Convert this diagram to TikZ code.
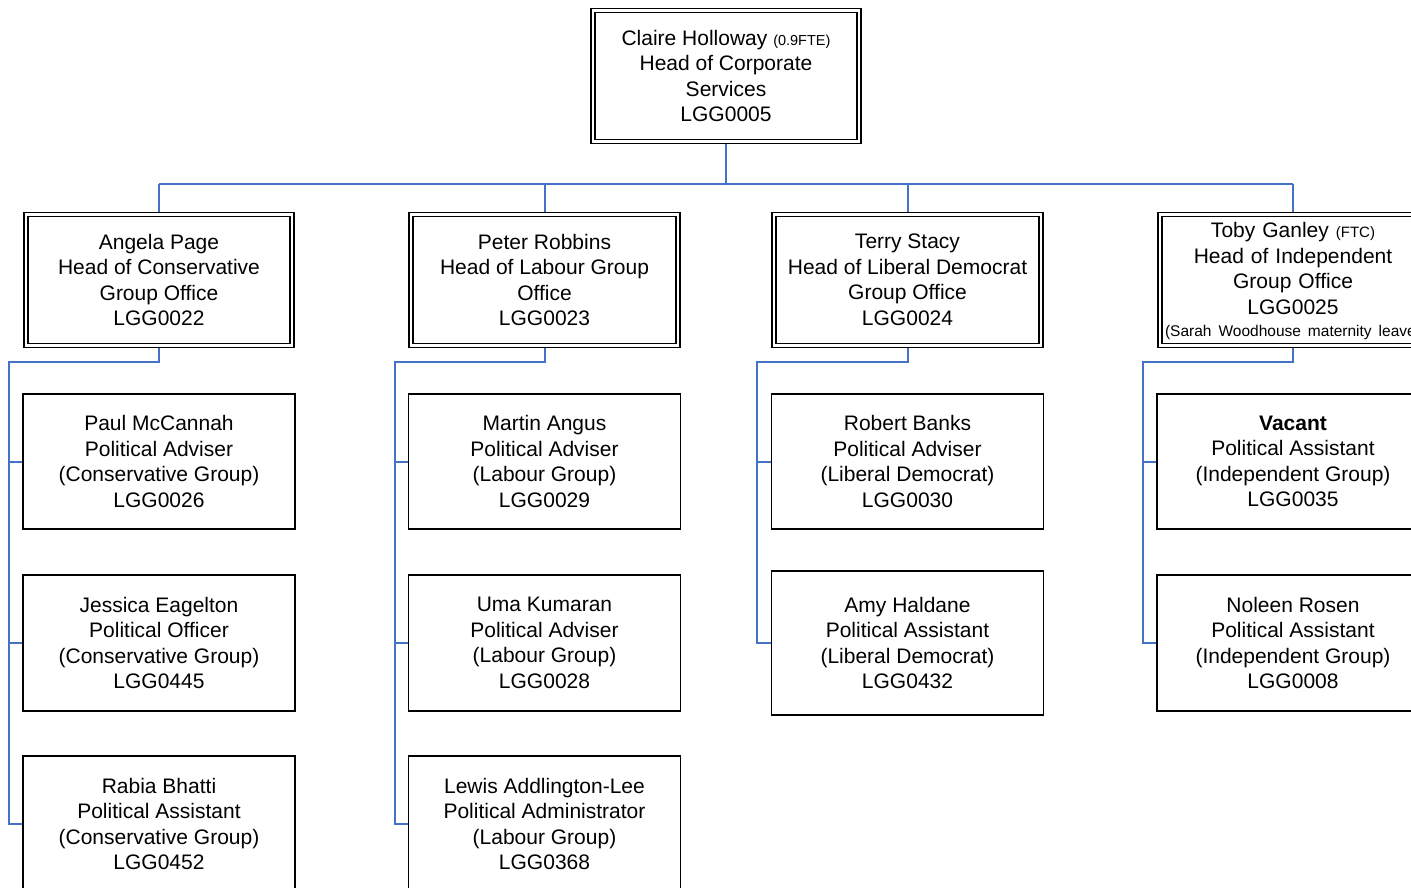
\documentclass[tikz,border=0pt]{standalone}
\usepackage{fontspec}
\setmainfont{Liberation Sans}
\usetikzlibrary{backgrounds}
\definecolor{connblue}{HTML}{4472C4}
\begin{document}
\begin{tikzpicture}[x=1pt,y=-1pt,
  every node/.style={font=\fontsize{21}{25.5}\selectfont, align=center, inner sep=0pt},
  headbox/.style={draw=black, double, double distance=2.4pt, line width=1.7pt, fill=white,
    minimum width=266.5, minimum height=131},
  staffbox/.style={draw=black, line width=1.6pt, fill=white, minimum width=272, minimum height=135},
  conn/.style={draw=connblue, line width=2pt}
]
\useasboundingbox (0,0) rectangle (1411,888);
\clip (0,0) rectangle (1411,888);

% top
\node[headbox] (top) at (726,76) {Claire Holloway {\fontsize{14.5}{16}\selectfont (0.9FTE)}\\Head of Corporate\\Services\\LGG0005};

% heads
\node[headbox] (h1) at (159,280) {Angela Page\\Head of Conservative\\Group Office\\LGG0022};
\node[headbox] (h2) at (544.5,280) {Peter Robbins\\Head of Labour Group\\Office\\LGG0023};
\node[headbox] (h3) at (907.5,280) {Terry Stacy\\Head of Liberal Democrat\\Group Office\\LGG0024};
\node[headbox] (h4) at (1293,280) {};
\node[text width=360] (h4t) at (1293,281) {Toby Ganley {\fontsize{15}{16}\selectfont (FTC)}\\Head of Independent\\Group Office\\LGG0025\\[-3pt]{\fontsize{15.5}{18}\selectfont (Sarah Woodhouse maternity leave)}};

% conservative
\node[staffbox] (c1) at (159,461.5) {Paul McCannah\\Political Adviser\\(Conservative Group)\\LGG0026};
\node[staffbox, minimum height=136] (c2) at (159,643) {Jessica Eagelton\\Political Officer\\(Conservative Group)\\LGG0445};
\node[staffbox, minimum height=136] (c3) at (159,824) {Rabia Bhatti\\Political Assistant\\(Conservative Group)\\LGG0452};

% labour
\node[staffbox] (l1) at (544.5,461.5) {Martin Angus\\Political Adviser\\(Labour Group)\\LGG0029};
\node[staffbox, minimum height=136] (l2) at (544.5,643) {Uma Kumaran\\Political Adviser\\(Labour Group)\\LGG0028};
\node[staffbox, minimum height=136] (l3) at (544.5,824) {Lewis Addlington-Lee\\Political Administrator\\(Labour Group)\\LGG0368};

% lib dem
\node[staffbox] (d1) at (907.5,461.5) {Robert Banks\\Political Adviser\\(Liberal Democrat)\\LGG0030};
\node[staffbox, minimum height=144] (d2) at (907.5,643) {Amy Haldane\\Political Assistant\\(Liberal Democrat)\\LGG0432};

% independent
\node[staffbox] (i1) at (1293,461.5) {\textbf{Vacant}\\Political Assistant\\(Independent Group)\\LGG0035};
\node[staffbox, minimum height=136] (i2) at (1293,643) {Noleen Rosen\\Political Assistant\\(Independent Group)\\LGG0008};

\begin{scope}[on background layer]
\coordinate (bus) at (0,184);
\draw[conn] (top.south) -- (top.south |- bus);
\draw[conn] (bus -| h1.north) -- (bus -| h4.north);
\foreach \h in {h1,h2,h3,h4} \draw[conn] (bus -| \h.north) -- (\h.north);

\coordinate (s1) at (9,362);
\draw[conn] (h1.south) |- (s1) |- (c3.west);
\draw[conn] (s1 |- c1.west) -- (c1.west);
\draw[conn] (s1 |- c2.west) -- (c2.west);

\coordinate (s2) at (395,362);
\draw[conn] (h2.south) |- (s2) |- (l3.west);
\draw[conn] (s2 |- l1.west) -- (l1.west);
\draw[conn] (s2 |- l2.west) -- (l2.west);

\coordinate (s3) at (757,362);
\draw[conn] (h3.south) |- (s3) |- (d2.west);
\draw[conn] (s3 |- d1.west) -- (d1.west);

\coordinate (s4) at (1143,362);
\draw[conn] (h4.south) |- (s4) |- (i2.west);
\draw[conn] (s4 |- i1.west) -- (i1.west);
\end{scope}
\end{tikzpicture}
\end{document}
